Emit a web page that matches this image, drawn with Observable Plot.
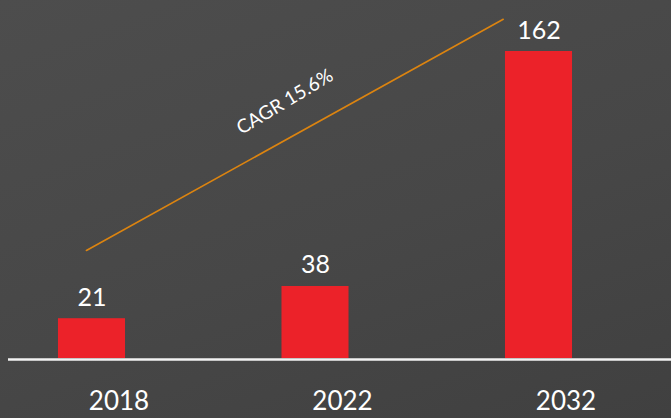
<!DOCTYPE html>
<html>
<head>
<meta charset="utf-8">
<script src="https://cdn.jsdelivr.net/npm/d3@7"></script>
<script src="https://cdn.jsdelivr.net/npm/@observablehq/plot@0.6"></script>
<style>
  html, body { margin: 0; padding: 0; }
  body { width: 671px; height: 418px; overflow: hidden;
         background: linear-gradient(160deg, #4d4d4d 0%, #474747 55%, #404040 100%); }
  svg { display: block; background: transparent !important; }
</style>
</head>
<body>
<div id="chart"></div>
<script>
// Data
const years = ["2018", "2022", "2032"];
const values = [21, 38, 162];
// CAGR annotation: trend line from/to (category index position, value)
const cagrLabel = "CAGR 15.6%";
const cagrPos = [-0.025, 1.84];
const cagrValue = [57, 179];

const data = years.map((year, i) => ({year, i, value: values[i]}));
const cagrLine = cagrPos.map((p, k) => ({p, v: cagrValue[k]}));
const cagrText = [{p: d3.mean(cagrPos), v: d3.mean(cagrValue), label: cagrLabel}];

const half = 0.15;
const font = "Lato, 'Open Sans', sans-serif";

const chart = Plot.plot({
  width: 671,
  height: 418,
  marginTop: 51,
  marginBottom: 60,
  marginLeft: 8,
  marginRight: 0,
  style: {background: "transparent", fontFamily: font, color: "white"},
  x: {type: "linear", domain: [-0.5, 2.5], range: [91.5 - 111.75, 91.5 + 2.5 * 223.5], axis: null},
  y: {domain: [0, 162], axis: null},
  marks: [
    Plot.rectY(data, {x1: d => d.i - half, x2: d => d.i + half, y: "value", fill: "#ec2229"}),
    Plot.ruleY([0], {stroke: "#f2f2f2", strokeWidth: 2.5, dy: 1}),
    Plot.text(data, {x: "i", y: "value", text: d => String(d.value), dy: -21, fill: "white", fontSize: 25, fontFamily: font}),
    Plot.text(data, {x: "i", frameAnchor: "bottom", text: "year", dx: 27, dy: 51, fill: "white", fontSize: 26, fontFamily: font}),
    Plot.line(cagrLine, {x: "p", y: "v", stroke: "#dc8410", strokeWidth: 1.6}),
    Plot.text(cagrText, {x: "p", y: "v", text: "label", rotate: -31, dx: -10, dy: -33, fill: "white", fontSize: 19, fontFamily: font})
  ]
});
document.getElementById("chart").appendChild(chart);
</script>
</body>
</html>
